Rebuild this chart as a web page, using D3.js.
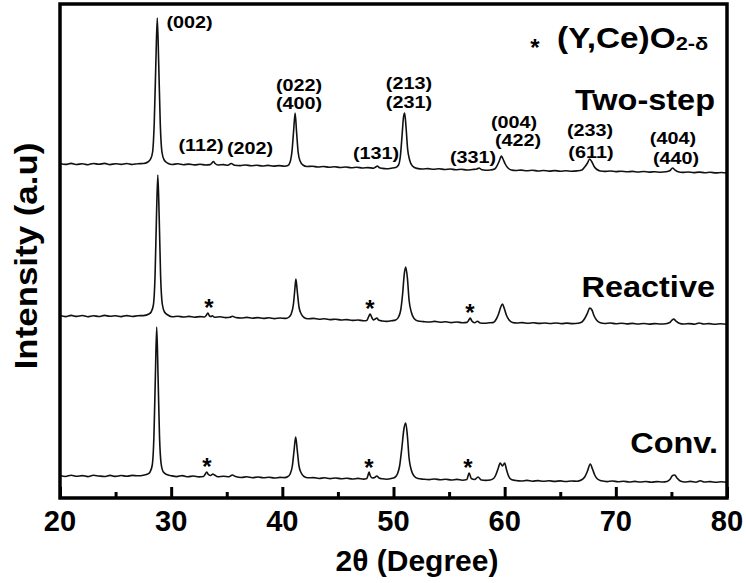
<!DOCTYPE html>
<html><head><meta charset="utf-8">
<script src="https://cdn.jsdelivr.net/npm/d3@7"></script>
<style>
html,body{margin:0;padding:0;background:#fff;}
svg{display:block;font-family:"Liberation Sans",Arial,Helvetica,sans-serif;font-weight:bold;}
</style></head>
<body>
<svg id="chart" width="746" height="583"></svg>
<script>
// ---------- DATA (2θ in degrees, intensity in a.u.) ----------
const xTicksMajor = [20, 30, 40, 50, 60, 70, 80];
const xTicksMinor = [25, 35, 45, 55, 65, 75];
const seriesNames = ["Conv.", "Reactive", "Two-step"];
const seriesOffsets = [22, 182, 334];

const convData = [
[20.0,0.5],[20.5,-0.5],[21.0,0.8],[21.5,-0.3],[22.0,0.4],[22.5,-0.6],[23.0,0.7],[23.5,0],[24.0,-0.5],[24.5,0.6],
[25.0,-0.4],[25.5,0.5],[26.0,-0.3],[26.5,0.6],[27.0,0.2],[27.5,0.8],[27.9,2],[28.1,4],[28.3,11],[28.45,40],
[28.58,100],[28.7,149],[28.82,100],[28.95,40],[29.1,12],[29.3,4],[29.6,1.5],[30.0,0.3],[30.5,-0.6],[31.0,0.4],
[31.5,-0.8],[32.0,0],[32.5,-0.9],[32.9,-0.5],[33.05,1.5],[33.2,4],[33.35,1.5],[33.55,0.5],[33.75,2],[33.9,1],
[34.2,-0.8],[34.7,-0.2],[35.2,-0.8],[35.5,1],[35.8,-0.5],[36.3,-1.5],[36.8,-0.8],[37.3,-1.7],[37.8,-1],[38.3,-1.8],
[38.8,-1.2],[39.3,-2],[39.8,-1.4],[40.2,-1.6],[40.5,-0.5],[40.7,2],[40.9,10],[41.05,25],[41.2,39],[41.35,25],
[41.5,10],[41.7,3],[41.95,-0.5],[42.3,-1.8],[42.8,-1.6],[43.3,-2.5],[43.8,-1.8],[44.3,-2.6],[44.8,-2],[45.3,-2.8],
[45.8,-2.2],[46.3,-3],[46.8,-2.4],[47.3,-3.1],[47.6,-2.5],[47.7,0.5],[47.8,4],[47.9,0.5],[48.1,-2],[48.3,-1.5],
[48.5,0],[48.7,-2],[49.0,-2.8],[49.4,-3.2],[49.8,-2.5],[50.1,-1.5],[50.35,2],[50.55,10],[50.75,28],[50.95,48],
[51.1,53],[51.25,40],[51.4,18],[51.6,6],[51.85,0],[52.2,-2.5],[52.7,-3.2],[53.2,-3.6],[53.7,-3],[54.2,-3.8],
[54.7,-3.2],[55.2,-4],[55.7,-3.4],[56.2,-4.2],[56.6,-3.6],[56.8,3],[57.0,-2.5],[57.3,-3.5],[57.6,-1],[57.9,-4],
[58.3,-4.4],[58.7,-4],[59.0,-2.5],[59.2,1],[59.4,7],[59.6,13],[59.8,10],[60.0,13],[60.15,7],[60.35,0],
[60.6,-3.5],[61.0,-4.5],[61.5,-5],[62.0,-4.4],[62.5,-5.2],[63.0,-4.6],[63.5,-5.3],[64.0,-4.8],[64.5,-5.4],[65.0,-4.9],
[65.5,-5.5],[66.0,-5],[66.5,-5.2],[66.9,-4],[67.2,-1],[67.45,5],[67.7,12],[67.9,7],[68.1,1],[68.35,-3],
[68.7,-4.8],[69.2,-5.6],[69.7,-5],[70.2,-5.8],[70.7,-5.2],[71.2,-6],[71.7,-5.4],[72.2,-6],[72.7,-5.5],[73.2,-6.2],
[73.7,-5.6],[74.2,-6],[74.6,-5.5],[74.9,-3],[75.1,0.5],[75.3,1],[75.5,-2],[75.8,-5],[76.2,-6],[76.7,-5.4],
[77.2,-6.2],[77.6,-4.8],[78.0,-6],[78.5,-5.6],[79.0,-6.3],[79.5,-5.7],[80.0,-6.2]
];

const reactiveData = [
[20.0,0.4],[20.5,-0.6],[21.0,0.6],[21.5,-0.4],[22.0,0.5],[22.5,-0.7],[23.0,0.3],[23.5,-0.5],[24.0,0.6],[24.5,-0.3],
[25.0,0.2],[25.5,-0.6],[26.0,0.4],[26.5,-0.5],[27.0,0.3],[27.5,0.4],[28.0,2],[28.2,4],[28.4,11],[28.55,40],
[28.68,100],[28.8,141],[28.92,100],[29.05,40],[29.2,12],[29.4,4],[29.7,1],[30.1,-0.8],[30.6,-0.2],[31.1,-1],
[31.6,-0.4],[32.1,-1.2],[32.6,-0.6],[33.0,-1],[33.15,0.5],[33.3,3],[33.45,0],[33.6,-0.5],[33.7,0.3],[33.9,-1.2],
[34.4,-0.8],[34.9,-1.6],[35.3,-1.2],[35.5,-0.2],[35.8,-1.5],[36.3,-2],[36.8,-1.4],[37.3,-2.2],[37.8,-1.6],[38.3,-2.4],
[38.8,-1.8],[39.3,-2.6],[39.8,-2],[40.3,-2.4],[40.6,-1],[40.8,2],[41.0,12],[41.12,26],[41.22,37],[41.35,24],
[41.5,9],[41.7,2],[41.95,-1.5],[42.3,-2.8],[42.8,-2.4],[43.3,-3.2],[43.8,-2.8],[44.3,-3.6],[44.8,-3.2],[45.3,-4],
[45.8,-3.6],[46.3,-4.4],[46.8,-4],[47.3,-4.8],[47.6,-4.5],[47.75,-1],[47.9,2],[48.05,-1.5],[48.2,-4],[48.35,-3],
[48.5,-2],[48.65,-4],[49.0,-5],[49.4,-5.4],[49.8,-4.8],[50.2,-4],[50.45,-1],[50.65,6],[50.82,22],[50.97,42],
[51.1,49],[51.25,38],[51.4,16],[51.6,4],[51.85,-2.5],[52.2,-5],[52.7,-5.6],[53.2,-6],[53.7,-5.4],[54.2,-6.2],
[54.7,-5.8],[55.2,-6.6],[55.7,-6],[56.2,-6.8],[56.6,-6.4],[56.75,-4.5],[56.9,-2],[57.05,-5],[57.3,-6.8],[57.55,-5.2],
[57.8,-7],[58.2,-7.2],[58.6,-6.8],[59.0,-6.4],[59.25,-3],[59.45,2],[59.65,9],[59.8,12],[59.95,8],[60.15,1],
[60.4,-4],[60.7,-6.5],[61.1,-7],[61.6,-6.6],[62.1,-7.3],[62.6,-6.8],[63.1,-7.4],[63.6,-7],[64.1,-7.5],[64.6,-7],
[65.1,-7.6],[65.6,-7.1],[66.1,-7.6],[66.6,-7.2],[66.95,-6],[67.2,-2.5],[67.45,3],[67.65,8],[67.85,6],[68.05,0],
[68.3,-4.5],[68.6,-6.8],[69.0,-7.5],[69.5,-7],[70.0,-7.8],[70.5,-7.2],[71.0,-7.9],[71.5,-7.4],[72.0,-8],[72.5,-7.5],
[73.0,-8.1],[73.5,-7.6],[74.0,-8],[74.5,-7.7],[74.85,-6.5],[75.05,-4.2],[75.2,-3],[75.4,-5],[75.7,-7.2],[76.1,-8],
[76.6,-7.6],[77.1,-8.2],[77.5,-7],[77.9,-8],[78.4,-7.6],[78.9,-8.3],[79.4,-7.8],[80.0,-8.3]
];

const twoStepData = [
[20.0,0.5],[20.5,-0.4],[21.0,0.6],[21.5,-0.5],[22.0,0.3],[22.5,-0.7],[23.0,0.5],[23.5,-0.3],[24.0,0.6],[24.5,-0.6],
[25.0,0.3],[25.5,-0.4],[26.0,0.5],[26.5,-0.5],[27.0,0.3],[27.5,0.5],[27.9,2],[28.15,5],[28.33,12],[28.48,42],
[28.62,100],[28.75,146],[28.88,100],[29.02,40],[29.17,12],[29.37,4],[29.7,0.8],[30.1,-0.5],[30.6,0.2],[31.1,-0.7],
[31.6,-0.1],[32.1,-0.9],[32.6,-0.3],[33.1,-1],[33.5,-0.6],[33.65,0.8],[33.8,2.5],[33.95,0.5],[34.2,-1],[34.7,-0.6],
[35.1,-1.3],[35.4,0.5],[35.7,-1.2],[36.2,-1.6],[36.7,-1],[37.2,-1.8],[37.7,-1.2],[38.2,-2],[38.7,-1.4],[39.2,-2.1],
[39.7,-1.6],[40.2,-2.2],[40.5,-1.5],[40.7,2],[40.88,14],[41.02,34],[41.15,51],[41.28,32],[41.42,12],[41.6,3],
[41.85,-1],[42.2,-2.5],[42.7,-2.2],[43.2,-3],[43.7,-2.5],[44.2,-3.2],[44.7,-2.8],[45.2,-3.5],[45.7,-3],[46.2,-3.8],
[46.7,-3.3],[47.2,-4],[47.7,-3.6],[48.2,-4.2],[48.4,-3],[48.55,-2],[48.7,-3.5],[49.0,-4.4],[49.4,-4.8],[49.8,-4.2],
[50.2,-3.5],[50.45,-1],[50.62,8],[50.78,30],[50.9,47],[51.0,51],[51.12,38],[51.27,15],[51.45,4],[51.7,-2],
[52.1,-4.4],[52.6,-5],[53.1,-4.6],[53.6,-5.3],[54.1,-4.8],[54.6,-5.5],[55.1,-5],[55.6,-5.8],[56.1,-5.3],[56.6,-6],
[57.1,-5.5],[57.5,-5],[57.7,-4],[57.9,-5.5],[58.3,-6.2],[58.7,-6],[59.1,-5],[59.35,-1],[59.55,4],[59.7,8],
[59.85,5],[60.05,0],[60.3,-4],[60.6,-6],[61.0,-6.5],[61.5,-6.1],[62.0,-6.8],[62.5,-6.3],[63.0,-7],[63.5,-6.5],
[64.0,-7.1],[64.5,-6.6],[65.0,-7.2],[65.5,-6.8],[66.0,-7.3],[66.5,-6.9],[66.95,-6],[67.2,-3],[67.45,1],[67.65,5],
[67.85,2],[68.05,-2.5],[68.3,-5.5],[68.6,-7],[69.0,-7.4],[69.5,-7],[70.0,-7.6],[70.5,-7.2],[71.0,-7.8],[71.5,-7.4],
[72.0,-8],[72.5,-7.5],[73.0,-8.1],[73.5,-7.7],[74.0,-8.2],[74.5,-7.8],[74.85,-6.8],[75.1,-4],[75.3,-5.8],[75.6,-7.8],
[76.0,-8.4],[76.5,-8],[77.0,-8.6],[77.5,-8.1],[78.0,-8.7],[78.5,-8.3],[79.0,-8.9],[79.5,-8.5],[80.0,-9]
];

// Miller-index labels (Two-step pattern): text, 2θ, intensity position (baseline)
const hklLabels = [
["(002)",31.65,470],["(112)",32.68,347],["(202)",37.09,344],
["(022)",41.5,407.5],["(400)",41.5,389],["(131)",48.43,339],
["(213)",51.39,409],["(231)",51.39,390],["(331)",57.15,335],
["(004)",60.84,370.5],["(422)",61.2,352],["(233)",67.68,362],["(611)",67.76,340],
["(404)",75.14,354],["(440)",75.42,334]
];
// (Y,Ce)O2-δ secondary phase markers: 2θ, intensity (centre of star)
const starMarks = [[33.4,195],[47.89,194],[56.88,190],[33.22,36],[47.8,35],[56.7,35]];
// series name labels: name, right-end 2θ, intensity (baseline)
const seriesLabels = [["Two-step",78.92,388],["Reactive",78.92,201],["Conv.",79.19,45]];
const legendStar = [62.73,455];
const legendText = [64.71,450];

// ---------- CHART ----------
const svg = d3.select("#chart");
const x = d3.scaleLinear().domain([20,80]).range([60,727]);
const y = d3.scaleLinear().domain([0,494]).range([498,4]);

const line = d3.line().x(d=>x(d[0])).y(d=>y(d[1])).curve(d3.curveMonotoneX);
const allSeries = [convData, reactiveData, twoStepData];
allSeries.forEach((data,i)=>{
  const off = seriesOffsets[i];
  svg.append("path")
    .datum(data.map(d=>[d[0], d[1]+off]))
    .attr("d", line)
    .attr("fill","none")
    .attr("stroke","#111")
    .attr("stroke-width",1.6)
    .attr("stroke-linejoin","round");
});

// frame
svg.append("rect")
  .attr("x",x(20)).attr("y",y(494))
  .attr("width",x(80)-x(20)).attr("height",y(0)-y(494))
  .attr("fill","none").attr("stroke","#000").attr("stroke-width",3.5);

// bottom axis: inward ticks
const axisG = svg.append("g").attr("transform",`translate(0,${y(0)})`);
axisG.call(d3.axisBottom(x).tickValues(xTicksMajor).tickSize(-11).tickFormat(""));
axisG.append("g").call(d3.axisBottom(x).tickValues(xTicksMinor).tickSize(-6).tickFormat(""));
axisG.selectAll(".domain").remove();
axisG.selectAll("line").attr("stroke","#000").attr("stroke-width",3);

svg.append("g").selectAll("text").data(xTicksMajor).join("text")
  .attr("x",d=>x(d)).attr("y",y(0)+33)
  .attr("text-anchor","middle").attr("font-size",30)
  .attr("transform",d=>`translate(${x(d)},0) scale(0.97,1) translate(${-x(d)},0)`)
  .text(d=>d);

// axis titles
svg.append("text").attr("x",417).attr("y",571).attr("text-anchor","middle")
  .attr("font-size",30).text("2θ (Degree)");
svg.append("g").attr("transform","translate(37,256) rotate(-90)")
  .append("text").attr("text-anchor","middle").attr("font-size",32)
  .attr("transform","scale(1.09,1)").text("Intensity (a.u)");

// helper for horizontally-scaled text
function sText(px,py,str,size,anchor,sx){
  const g = svg.append("g").attr("transform",`translate(${px},${py})`);
  return g.append("text").attr("text-anchor",anchor).attr("font-size",size)
    .attr("transform",`scale(${sx},1)`).text(str);
}

hklLabels.forEach(d=>sText(x(d[1]),y(d[2]),d[0],16.5,"middle",1.2));
starMarks.forEach(d=>sText(x(d[0]),y(d[1])+13,"*",24,"middle",1));
seriesLabels.forEach(d=>sText(x(d[1]),y(d[2]),d[0],29,"end",1.12));

// legend
sText(x(legendStar[0]),y(legendStar[1])+13,"*",24,"middle",1);
const lt = sText(x(legendText[0]),y(legendText[1]),"(Y,Ce)O",29,"start",1.15);
lt.append("tspan").attr("font-size",19).attr("dy",2).text("2-δ");
</script>
</body></html>
